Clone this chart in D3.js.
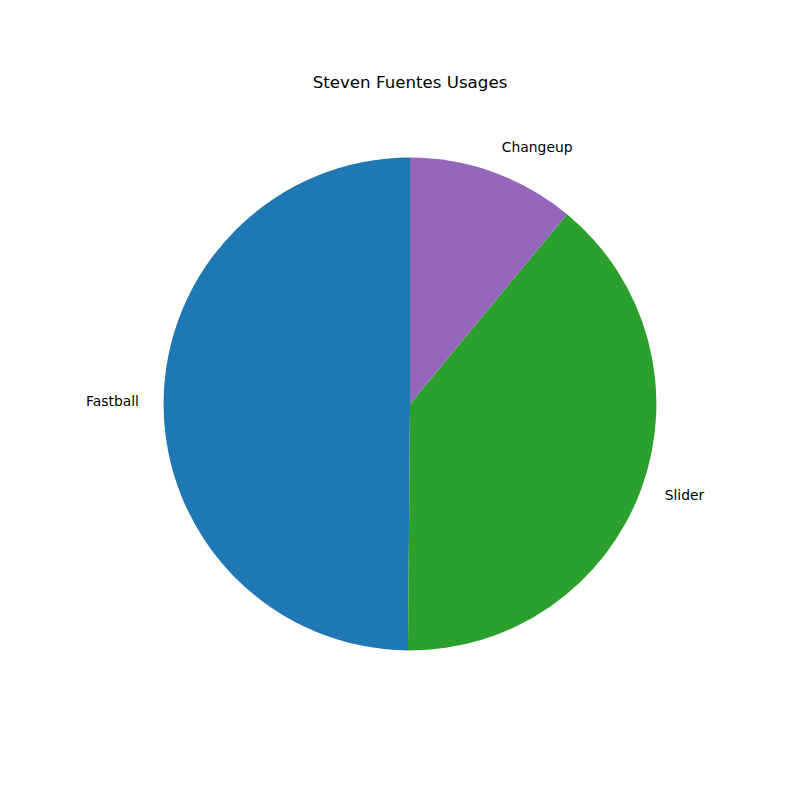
<!DOCTYPE html>
<html>
<head>
<meta charset="utf-8">
<script src="https://cdn.jsdelivr.net/npm/d3@7"></script>
<style>
  body { margin: 0; background: #fff; }
  text { font-family: "DejaVu Sans", sans-serif; }
</style>
</head>
<body>
<div id="chart"></div>
<script>
// pitch usage data
var pitches = ["Fastball", "Slider", "Changeup"];
var usages = [49.87, 39.13, 11.0];
var colors = ["#1f77b4", "#2ca02c", "#9467bd"];

var W = 800, H = 800;
var cx = 410, cy = 404, radius = 246.4;

var svg = d3.select("#chart")
  .append("svg")
    .attr("width", W)
    .attr("height", H);

svg.append("text")
  .text("Steven Fuentes Usages")
  .attr("x", cx)
  .attr("y", 88)
  .attr("text-anchor", "middle")
  .style("font-size", "16.67px")
  .attr("fill", "#000");

var data = pitches.map(function(p, i) { return {name: p, value: usages[i], color: colors[i]}; });

// matplotlib draws counterclockwise starting from the top
var pie = d3.pie()
  .sort(null)
  .value(function(d) { return d.value; })
  .startAngle(0)
  .endAngle(-2 * Math.PI);

var arc = d3.arc().innerRadius(0).outerRadius(radius);

var g = svg.append("g")
  .attr("transform", "translate(" + cx + "," + cy + ")");

var arcs = pie(data);

g.selectAll("path")
  .data(arcs)
  .enter()
  .append("path")
    .attr("d", arc)
    .attr("fill", function(d) { return d.data.color; });

g.selectAll("text.label")
  .data(arcs)
  .enter()
  .append("text")
    .attr("class", "label")
    .each(function(d) {
      var a = (d.startAngle + d.endAngle) / 2;
      var x = 1.1 * radius * Math.sin(a);
      var y = -1.1 * radius * Math.cos(a);
      d3.select(this)
        .attr("x", x)
        .attr("y", y - 1.5)
        .attr("text-anchor", x < 0 ? "end" : "start");
    })
    .attr("dominant-baseline", "central")
    .style("font-size", "13.89px")
    .attr("fill", "#000")
    .text(function(d) { return d.data.name; });
</script>
</body>
</html>
